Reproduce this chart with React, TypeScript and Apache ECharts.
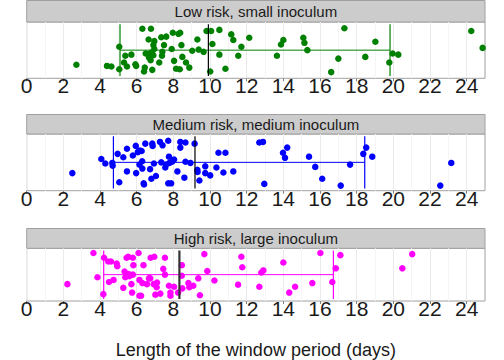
import React, { useEffect, useRef } from "react";
import * as echarts from "echarts";

const panelTitles = ["Low risk, small inoculum", "Medium risk, medium inoculum", "High risk, large inoculum"];
const tickValues = [0, 2, 4, 6, 8, 10, 12, 14, 16, 18, 20, 22, 24];

const lowX = [2.71, 4.38, 4.62, 5.05, 5.05, 5.31, 5.38, 5.47, 5.71, 5.93, 5.97, 6.31, 6.44, 6.40, 6.49, 6.65, 6.67, 6.78, 6.85, 6.76, 6.91, 6.91, 6.96, 6.83, 6.71, 6.96, 7.23, 7.34, 7.40, 7.38, 7.49, 7.61, 7.91, 7.97, 8.04, 8.15, 8.28, 8.37, 8.35, 8.44, 8.49, 8.69, 8.87, 9.03, 9.31, 9.38, 9.65, 9.81, 10.06, 10.01, 10.13, 10.51, 10.51, 10.84, 11.16, 11.27, 11.54, 11.71, 12.14, 13.65, 13.87, 14.00, 15.09, 15.15, 15.31, 16.61, 17.00, 17.33, 18.47, 19.02, 19.78, 19.96, 20.27, 24.25, 24.87];
const lowY = [0.24, 0.22, 0.21, 0.16, 0.56, 0.28, 0.40, 0.21, 0.42, 0.25, 0.22, 0.88, 0.19, 0.12, 0.44, 0.69, 0.37, 0.88, 0.15, 0.32, 0.41, 0.59, 0.66, 0.46, 0.44, 0.52, 0.28, 0.73, 0.47, 0.40, 0.59, 0.74, 0.52, 0.81, 0.31, 0.17, 0.79, 0.81, 0.16, 0.59, 0.38, 0.28, 0.19, 0.49, 0.69, 0.51, 0.47, 0.84, 0.84, 0.12, 0.61, 0.86, 0.42, 0.17, 0.78, 0.68, 0.40, 0.56, 0.72, 0.40, 0.60, 0.68, 0.72, 0.63, 0.50, 0.11, 0.35, 0.89, 0.38, 0.65, 0.28, 0.44, 0.42, 0.84, 0.54];
const lowStats = [5.09, 9.91, 19.82];

const medX = [2.49, 4.07, 4.29, 4.69, 4.67, 4.96, 5.05, 5.27, 5.47, 5.47, 5.79, 5.95, 5.97, 6.06, 6.17, 6.27, 6.15, 6.30, 6.31, 6.38, 6.40, 6.47, 6.73, 6.80, 6.85, 6.87, 6.94, 7.05, 7.27, 7.41, 7.34, 7.56, 7.60, 7.72, 7.76, 7.79, 7.72, 7.88, 7.93, 8.04, 8.22, 8.38, 8.38, 8.66, 8.66, 8.60, 8.93, 9.16, 9.31, 9.32, 9.42, 9.74, 9.74, 10.01, 10.35, 10.46, 10.73, 10.84, 11.27, 12.69, 12.89, 12.96, 13.98, 14.09, 14.21, 15.40, 15.74, 16.12, 17.13, 17.64, 18.36, 18.52, 18.85, 22.56, 23.16];
const medY = [0.31, 0.56, 0.48, 0.44, 0.49, 0.65, 0.15, 0.59, 0.74, 0.34, 0.62, 0.79, 0.31, 0.68, 0.71, 0.70, 0.46, 0.52, 0.39, 0.13, 0.11, 0.83, 0.38, 0.21, 0.83, 0.79, 0.48, 0.26, 0.86, 0.80, 0.50, 0.41, 0.46, 0.88, 0.60, 0.49, 0.13, 0.13, 0.51, 0.55, 0.34, 0.86, 0.76, 0.85, 0.51, 0.23, 0.49, 0.83, 0.37, 0.33, 0.18, 0.43, 0.31, 0.27, 0.41, 0.67, 0.32, 0.67, 0.34, 0.85, 0.86, 0.12, 0.67, 0.58, 0.76, 0.60, 0.42, 0.21, 0.09, 0.46, 0.65, 0.76, 0.60, 0.09, 0.49];
const medStats = [4.73, 9.18, 18.44];

const highX = [2.22, 3.64, 3.86, 4.18, 4.22, 4.45, 4.60, 4.49, 4.74, 4.91, 4.94, 5.27, 5.34, 5.38, 5.45, 5.54, 5.56, 5.60, 5.71, 5.75, 5.79, 5.82, 5.79, 6.10, 6.15, 6.15, 6.24, 6.31, 6.37, 6.56, 6.67, 6.74, 6.76, 6.96, 6.93, 7.02, 7.09, 7.11, 7.29, 7.45, 7.54, 7.54, 7.76, 7.84, 7.84, 8.04, 8.26, 8.46, 8.46, 8.49, 8.82, 8.87, 9.09, 9.36, 9.45, 9.69, 9.85, 10.24, 11.53, 11.71, 11.76, 12.69, 12.80, 12.91, 14.00, 14.32, 14.64, 15.58, 16.02, 16.67, 16.86, 17.11, 20.49, 21.03];
const highY = [0.32, 0.91, 0.45, 0.13, 0.82, 0.75, 0.75, 0.36, 0.40, 0.71, 0.66, 0.25, 0.56, 0.45, 0.82, 0.84, 0.51, 0.47, 0.32, 0.16, 0.82, 0.68, 0.50, 0.91, 0.40, 0.10, 0.10, 0.34, 0.68, 0.32, 0.43, 0.43, 0.82, 0.84, 0.32, 0.12, 0.26, 0.35, 0.14, 0.61, 0.82, 0.50, 0.29, 0.10, 0.16, 0.27, 0.16, 0.68, 0.48, 0.24, 0.34, 0.26, 0.29, 0.43, 0.11, 0.89, 0.57, 0.39, 0.31, 0.84, 0.64, 0.27, 0.54, 0.58, 0.73, 0.16, 0.27, 0.34, 0.91, 0.36, 0.62, 0.87, 0.62, 0.89];
const highStats = [4.20, 8.33, 16.73];

const FONT = "'Liberation Sans', Arial, Helvetica, sans-serif";

export default function App() {
  const ref = useRef<HTMLDivElement>(null);
  useEffect(() => {
    if (!ref.current) return;
    const chart = echarts.init(ref.current, null, { renderer: "svg" });
    const L = 26.7;
    const W = 458.3;
    const panels = [
      { top: 22, height: 56.3, stripTop: 0.5, x: lowX, y: lowY, s: lowStats, color: "#008000", medColor: "#000000", medWidth: 1.2 },
      { top: 134, height: 56.7, stripTop: 114.5, x: medX, y: medY, s: medStats, color: "#0000ff", medColor: "#000000", medWidth: 1.2 },
      { top: 248.3, height: 56.7, stripTop: 228.5, x: highX, y: highY, s: highStats, color: "#ff00ff", medColor: "#333333", medWidth: 2.2 },
    ];
    const grid: any[] = [];
    const xAxis: any[] = [];
    const yAxis: any[] = [];
    const series: any[] = [];
    const graphic: any[] = [];
    panels.forEach((p, i) => {
      grid.push({ left: L, width: W, top: p.top, height: p.height, show: true, backgroundColor: "#ffffff", borderColor: "#a0a0a0", borderWidth: 1 });
      xAxis.push({
        type: "value", gridIndex: i, min: 0, max: 25, interval: 2,
        axisLine: { show: false },
        axisTick: { show: true, length: 3, lineStyle: { color: "#7f7f7f" }, customValues: tickValues },
        axisLabel: { show: true, fontSize: 21, color: "#1a1a1a", fontFamily: FONT, margin: -3, customValues: tickValues },
        splitLine: { show: true, lineStyle: { color: "#ebebeb", width: 1 } },
        minorTick: { show: false, splitNumber: 2 },
        minorSplitLine: { show: true, lineStyle: { color: "#f5f5f5", width: 1 } },
        ...(i === 2 ? { name: "Length of the window period (days)", nameLocation: "middle", nameGap: 40, nameTextStyle: { fontSize: 18, color: "#1a1a1a", fontFamily: FONT } } : {}),
      });
      yAxis.push({ type: "value", gridIndex: i, min: 0, max: 1, show: false, splitLine: { show: false } });
      series.push({
        type: "scatter", xAxisIndex: i, yAxisIndex: i, symbolSize: 6.5,
        itemStyle: { color: p.color, opacity: 1 },
        data: p.x.map((v, k) => [v, p.y[k]]), z: 2,
      });
      const lineCommon = { type: "line", xAxisIndex: i, yAxisIndex: i, symbol: "none", silent: true, z: 3 };
      series.push({ ...lineCommon, data: [[p.s[0], 0.5], [p.s[2], 0.5]], lineStyle: { color: p.color, width: 1 } });
      series.push({ ...lineCommon, data: [[p.s[0], 0.04], [p.s[0], 0.96]], lineStyle: { color: p.color, width: 1.2 } });
      series.push({ ...lineCommon, data: [[p.s[2], 0.04], [p.s[2], 0.96]], lineStyle: { color: p.color, width: 1.2 } });
      series.push({ ...lineCommon, data: [[p.s[1], 0.04], [p.s[1], 0.96]], lineStyle: { color: p.medColor, width: p.medWidth }, z: 4 });
      graphic.push({ type: "rect", shape: { x: L, y: p.stripTop, width: W, height: p.top - p.stripTop }, style: { fill: "#cccccc", stroke: "#a0a0a0", lineWidth: 1 } });
      graphic.push({ type: "text", x: L + W / 2, y: p.stripTop + (p.top - p.stripTop) / 2 + 0.5, style: { text: panelTitles[i], fill: "#1a1a1a", font: `15px ${FONT}`, textAlign: "center", textVerticalAlign: "middle" } });
    });
    chart.setOption({ animation: false, grid, xAxis, yAxis, series, graphic });
    return () => chart.dispose();
  }, []);
  return <div ref={ref} style={{ position: "fixed", left: 0, top: 0, width: 504, height: 360, background: "#ffffff" }} />;
}
